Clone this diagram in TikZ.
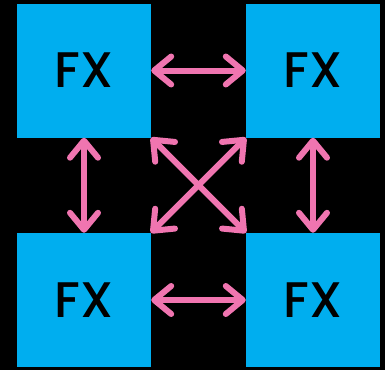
\documentclass[tikz,border=0pt]{standalone}
\usepackage{fontspec}
\setmainfont{Poppins}[UprightFont=* Medium]
\usetikzlibrary{arrows.meta}
\definecolor{fxcyan}{RGB}{0,174,239}
\definecolor{fxpink}{RGB}{240,117,176}

\begin{document}
\begin{tikzpicture}[x=1pt, y=-1pt,
    fxbox/.style={fill=fxcyan, minimum size=134pt, inner sep=0pt,
      font=\fontsize{50}{50}\selectfont},
    link/.style={fxpink, line width=6pt, line cap=round,
      {Straight Barb[length=17pt, width=28pt, round]}-{Straight Barb[length=17pt, width=28pt, round]}}]
        % Hintergrund
        \fill[black] (0,0) rectangle (385,370);

        % Vier Bloecke
        \node[fxbox] (tl) at (84,70.5) {FX};
        \node[fxbox] (tr) at (313,70.5) {FX};
        \node[fxbox] (bl) at (84,300) {FX};
        \node[fxbox] (br) at (313,300) {FX};

        % Verbindungen
        \draw[link] (tl) -- (tr);
        \draw[link] (bl) -- (br);
        \draw[link] (tl) -- (bl);
        \draw[link] (tr) -- (br);
        \draw[link] (tl) -- (br);
        \draw[link] (tr) -- (bl);
    \end{tikzpicture}
\end{document}
